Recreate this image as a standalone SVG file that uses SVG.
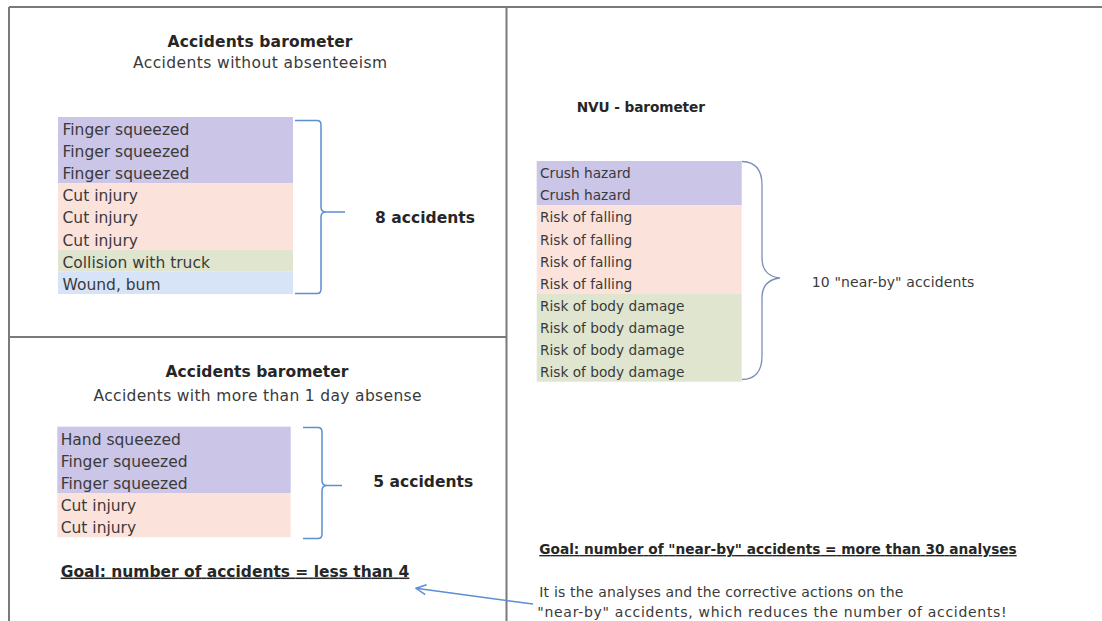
<svg xmlns="http://www.w3.org/2000/svg" width="1102" height="621" viewBox="0 0 1102 621">
<style>
.frame{fill:none;stroke:#7a7a7a;stroke-width:2}
.t{font-family:"DejaVu Sans","Liberation Sans",sans-serif;fill:#3a3a3a}
.b{font-weight:bold;fill:#262626}
.li{font-size:15.5px}
.lr{font-size:13.7px}
.pu{fill:#cbc5e8}
.pk{fill:#fbe3dc}
.gr{fill:#dfe5cf}
.bl{fill:#d7e3f7}
.brace{fill:none;stroke:#5b8fcf;stroke-width:1.5}
.curly{fill:none;stroke:#7d8fb8;stroke-width:1.3}
.ul{text-decoration:underline}
</style>
<defs>
<marker id="ah" markerWidth="12" markerHeight="12" refX="11" refY="6" orient="auto" markerUnits="userSpaceOnUse">
<path d="M1,1 L11,6 L1,11" fill="none" stroke="#5b8fcf" stroke-width="1.5"/>
</marker>
</defs>
<rect width="1102" height="621" fill="#ffffff"/>
<g id="frames">
<line class="frame" x1="9" y1="7" x2="1102" y2="7"/>
<line class="frame" x1="9" y1="7" x2="9" y2="621"/>
<line class="frame" x1="506.5" y1="7" x2="506.5" y2="621"/>
<line class="frame" x1="9" y1="337" x2="506.5" y2="337"/>
</g>
<g id="panel-no-absence">
<text class="t b" x="260" y="47" font-size="15.5" text-anchor="middle" textLength="185">Accidents barometer</text>
<text class="t" x="260" y="68" font-size="15.5" text-anchor="middle" textLength="254">Accidents without absenteeism</text>
<rect class="pu" x="58" y="117" width="235" height="66.3"/>
<rect class="pk" x="58" y="183.3" width="235" height="66.3"/>
<rect class="gr" x="58" y="249.6" width="235" height="22.1"/>
<rect class="bl" x="58" y="271.7" width="235" height="22.3"/>
<g class="t li">
<text x="62.5" y="135">Finger squeezed</text>
<text x="62.5" y="157.1">Finger squeezed</text>
<text x="62.5" y="179.2">Finger squeezed</text>
<text x="62.5" y="201.3">Cut injury</text>
<text x="62.5" y="223.4">Cut injury</text>
<text x="62.5" y="245.5">Cut injury</text>
<text x="62.5" y="267.6">Collision with truck</text>
<text x="62.5" y="289.7">Wound, bum</text>
</g>
<path class="brace" d="M295,120.5 L317,120.5 Q321,120.5 321,125 L321,207 Q321,212 326,212 L345,212 M326,212 Q321,212 321,217 L321,289 Q321,293.5 317,293.5 L295,293.5"/>
<text class="t b" x="375" y="222.5" font-size="15.5" textLength="100">8 accidents</text>
</g>
<g id="panel-absence">
<text class="t b" x="257" y="376.5" font-size="15.5" text-anchor="middle" textLength="183">Accidents barometer</text>
<text class="t" x="257.5" y="401" font-size="15.5" text-anchor="middle" textLength="328">Accidents with more than 1 day absense</text>
<rect class="pu" x="57.3" y="426.7" width="233.4" height="66.3"/>
<rect class="pk" x="57.3" y="493" width="233.4" height="44.3"/>
<g class="t li">
<text x="60.7" y="444.8">Hand squeezed</text>
<text x="60.7" y="466.9">Finger squeezed</text>
<text x="60.7" y="489">Finger squeezed</text>
<text x="60.7" y="511.1">Cut injury</text>
<text x="60.7" y="533.2">Cut injury</text>
</g>
<path class="brace" d="M303,427.5 L318,427.5 Q322,427.5 322,432 L322,480.5 Q322,485.5 327,485.5 L342,485.5 M327,485.5 Q322,485.5 322,490.5 L322,534 Q322,538.5 318,538.5 L303,538.5"/>
<text class="t b" x="373.3" y="487.3" font-size="15.5" textLength="100">5 accidents</text>
<text class="t b ul" x="60.7" y="576.5" font-size="15.5" textLength="348.6">Goal: number of accidents = less than 4</text>
</g>
<g id="panel-nvu">
<text class="t b" x="576.7" y="111.7" font-size="13.7" textLength="128.3">NVU - barometer</text>
<rect class="pu" x="536.7" y="161" width="205" height="44.1"/>
<rect class="pk" x="536.7" y="205.1" width="205" height="88.3"/>
<rect class="gr" x="536.7" y="293.4" width="205" height="88.3"/>
<g class="t lr">
<text x="540" y="178.3">Crush hazard</text>
<text x="540" y="200.4">Crush hazard</text>
<text x="540" y="222.4">Risk of falling</text>
<text x="540" y="244.5">Risk of falling</text>
<text x="540" y="266.6">Risk of falling</text>
<text x="540" y="288.7">Risk of falling</text>
<text x="540" y="310.7">Risk of body damage</text>
<text x="540" y="332.8">Risk of body damage</text>
<text x="540" y="354.9">Risk of body damage</text>
<text x="540" y="377">Risk of body damage</text>
</g>
<path class="curly" d="M742,161.5 Q762,162 762,185 L762,258 Q762,276 780,278 Q762,280 762,298 L762,356 Q762,379 742,379.5"/>
<text class="t" x="811.7" y="287.3" font-size="14" textLength="162.7">10 "near-by" accidents</text>
<text class="t b ul" x="539.3" y="554" font-size="13.7" textLength="477.4">Goal: number of "near-by" accidents = more than 30 analyses</text>
<text class="t" x="539.3" y="596.7" font-size="14" textLength="364">It is the analyses and the corrective actions on the</text>
<text class="t" x="537.3" y="616.7" font-size="14" textLength="469.4">"near-by" accidents, which reduces the number of accidents!</text>
</g>
<g id="connectors">
<line x1="533" y1="604" x2="416" y2="588.3" stroke="#5b8fcf" stroke-width="1.5" marker-end="url(#ah)"/>
</g>
</svg>
